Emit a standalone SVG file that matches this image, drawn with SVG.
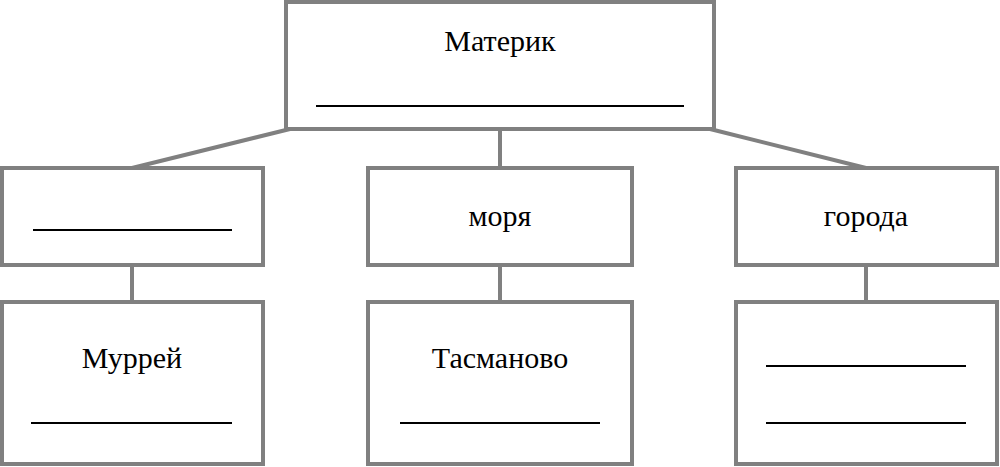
<svg xmlns="http://www.w3.org/2000/svg" width="1000" height="467" viewBox="0 0 1000 467">
<style>
.b{fill:#fff;stroke:#808080;stroke-width:4}
.c{stroke:#808080;stroke-width:4;fill:none}
.u{stroke:#000;stroke-width:2}
text{font-family:"Liberation Serif","Times New Roman","DejaVu Serif",serif;font-size:30px;text-anchor:middle;fill:#000}
</style>
<rect width="1000" height="467" fill="#fff"/>
<g id="connectors">
<path class="c" d="M290 129L132 168M500 129V168M710 129L866 168M132 265V302M500 265V302M866 265V302"/>
</g>
<g id="top"><rect class="b" x="286" y="2" width="428" height="127"/><text x="500" y="51">Материк</text><line class="u" x1="316" y1="106" x2="684" y2="106"/></g>
<g id="m1"><rect class="b" x="2" y="168" width="261" height="97"/><line class="u" x1="33" y1="230" x2="232" y2="230"/></g>
<g id="m2"><rect class="b" x="368" y="168" width="264" height="97"/><text x="500" y="226">моря</text></g>
<g id="m3"><rect class="b" x="736" y="168" width="261" height="97"/><text x="866" y="226">города</text></g>
<g id="b1"><rect class="b" x="2" y="302" width="261" height="162"/><text x="132" y="368">Муррей</text><line class="u" x1="31" y1="423" x2="232" y2="423"/></g>
<g id="b2"><rect class="b" x="368" y="302" width="264" height="162"/><text x="500" y="368">Тасманово</text><line class="u" x1="400" y1="423" x2="600" y2="423"/></g>
<g id="b3"><rect class="b" x="736" y="302" width="261" height="162"/><line class="u" x1="766" y1="366" x2="966" y2="366"/><line class="u" x1="766" y1="423" x2="966" y2="423"/></g>
</svg>
